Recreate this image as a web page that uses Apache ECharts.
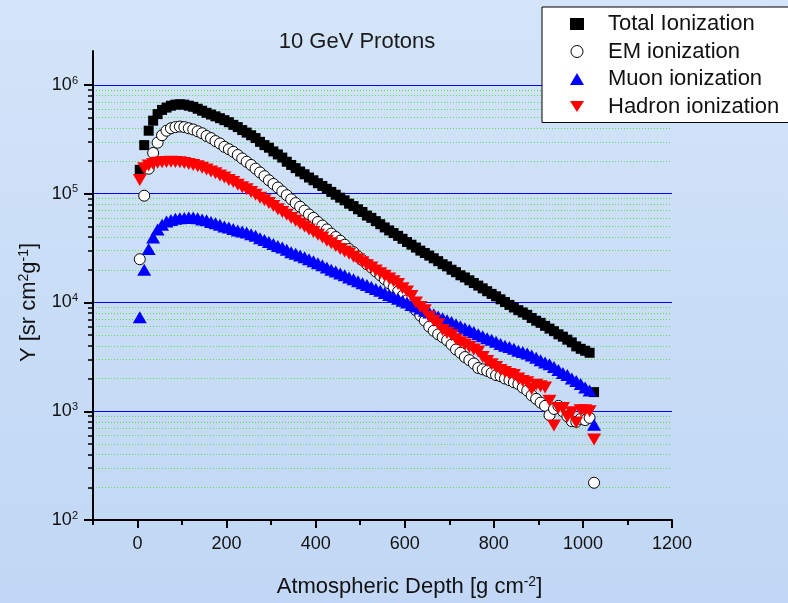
<!DOCTYPE html>
<html><head><meta charset="utf-8">
<script src="https://cdn.jsdelivr.net/npm/echarts@6/dist/echarts.min.js"></script>
<style>html,body{margin:0;padding:0;}#c{width:788px;height:603px;background:linear-gradient(180deg,#d4e5f9 0%,#c9ddf7 50%,#c1d7f5 100%);}</style>
</head><body><div id="c"></div>
<script>
const depth = [5,15,25,35,45,55,65,75,85,95,105,115,125,135,145,155,165,175,185,195,
205,215,225,235,245,255,265,275,285,295,305,315,325,335,345,355,365,375,385,395,
405,415,425,435,445,455,465,475,485,495,505,515,525,535,545,555,565,575,585,595,
605,615,625,635,645,655,665,675,685,695,705,715,725,735,745,755,765,775,785,795,
805,815,825,835,845,855,865,875,885,895,905,915,925,935,945,955,965,975,985,995,
1005,1015,1025];

const totalIon = [1.66e5,2.8e5,3.8e5,4.7e5,5.4e5,5.9e5,6.2e5,6.45e5,6.6e5,6.65e5,
6.6e5,6.45e5,6.3e5,6.05e5,5.8e5,5.55e5,5.35e5,5.15e5,4.95e5,4.75e5,
4.55e5,4.3e5,4.1e5,3.85e5,3.65e5,3.45e5,3.25e5,3.0e5,2.8e5,2.65e5,
2.45e5,2.3e5,2.15e5,1.97e5,1.84e5,1.72e5,1.6e5,1.51e5,1.41e5,1.33e5,
1.25e5,1.18e5,1.11e5,1.04e5,9.8e4,9.2e4,8.7e4,8.1e4,7.7e4,7.2e4,
6.8e4,6.3e4,6.0e4,5.6e4,5.25e4,4.9e4,4.6e4,4.35e4,4.1e4,3.85e4,
3.6e4,3.4e4,3.2e4,3.0e4,2.85e4,2.7e4,2.55e4,2.4e4,2.25e4,2.15e4,
2.0e4,1.9e4,1.78e4,1.7e4,1.6e4,1.51e4,1.43e4,1.35e4,1.27e4,1.2e4,
1.14e4,1.07e4,1.01e4,9.5e3,9.0e3,8.5e3,8.1e3,7.7e3,7.2e3,6.8e3,
6.5e3,6.1e3,5.75e3,5.45e3,5.1e3,4.85e3,4.55e3,4.3e3,3.95e3,3.75e3,
3.6e3,3.45e3,1.5e3];

const emIon = [2.5e4,9.6e4,1.7e5,2.37e5,2.95e5,3.45e5,3.8e5,4.0e5,4.1e5,4.15e5,
4.1e5,4.0e5,3.9e5,3.75e5,3.6e5,3.4e5,3.25e5,3.05e5,2.9e5,2.7e5,
2.57e5,2.43e5,2.27e5,2.11e5,1.97e5,1.84e5,1.7e5,1.57e5,1.45e5,1.33e5,
1.23e5,1.14e5,1.05e5,9.7e4,8.9e4,8.2e4,7.6e4,7.0e4,6.45e4,6.0e4,
5.5e4,5.1e4,4.7e4,4.3e4,4.0e4,3.7e4,3.4e4,3.1e4,2.9e4,2.65e4,
2.45e4,2.25e4,2.1e4,1.93e4,1.78e4,1.64e4,1.5e4,1.38e4,1.26e4,1.15e4,
1.05e4,9.5e3,8.5e3,7.6e3,6.8e3,6.0e3,5.5e3,5.1e3,4.8e3,4.5e3,
4.1e3,3.7e3,3.45e3,3.15e3,2.95e3,2.75e3,2.5e3,2.43e3,2.35e3,2.25e3,
2.15e3,2.1e3,2.0e3,1.93e3,1.85e3,1.78e3,1.65e3,1.55e3,1.4e3,1.3e3,
1.2e3,1.12e3,9.2e2,1.05e3,1.12e3,1.0e3,9.0e2,8.1e2,8.0e2,8.5e2,
8.3e2,8.7e2,2.2e2];

const muonIon = [7.3e3,2.0e4,3.1e4,3.95e4,4.7e4,5.2e4,5.55e4,5.75e4,5.9e4,5.95e4,
6.0e4,6.05e4,6.05e4,5.95e4,5.8e4,5.7e4,5.5e4,5.35e4,5.2e4,5.0e4,
4.9e4,4.75e4,4.6e4,4.5e4,4.4e4,4.25e4,4.1e4,3.9e4,3.75e4,3.6e4,
3.45e4,3.3e4,3.2e4,3.05e4,2.9e4,2.8e4,2.7e4,2.6e4,2.5e4,2.4e4,
2.3e4,2.2e4,2.1e4,2.0e4,1.93e4,1.85e4,1.78e4,1.7e4,1.64e4,1.57e4,
1.5e4,1.45e4,1.39e4,1.33e4,1.28e4,1.22e4,1.17e4,1.13e4,1.08e4,1.04e4,
1.0e4,9.5e3,9.2e3,8.8e3,8.4e3,8.1e3,7.8e3,7.45e3,7.15e3,6.85e3,
6.6e3,6.3e3,6.05e3,5.8e3,5.6e3,5.35e3,5.1e3,4.9e3,4.7e3,4.55e3,
4.35e3,4.15e3,4.0e3,3.9e3,3.75e3,3.6e3,3.5e3,3.4e3,3.25e3,3.1e3,
2.95e3,2.8e3,2.7e3,2.55e3,2.4e3,2.25e3,2.15e3,2.0e3,1.9e3,1.78e3,
1.65e3,1.55e3,7.5e2];

const hadronIon = [1.34e5,1.72e5,1.82e5,1.88e5,1.93e5,1.95e5,1.96e5,1.97e5,1.96e5,1.95e5,
1.92e5,1.88e5,1.84e5,1.79e5,1.73e5,1.67e5,1.6e5,1.54e5,1.47e5,1.41e5,
1.34e5,1.28e5,1.21e5,1.15e5,1.1e5,1.04e5,9.8e4,9.2e4,8.7e4,8.2e4,
7.7e4,7.2e4,6.8e4,6.4e4,6.0e4,5.65e4,5.3e4,5.0e4,4.7e4,4.45e4,
4.2e4,3.95e4,3.7e4,3.5e4,3.3e4,3.1e4,2.95e4,2.8e4,2.63e4,2.5e4,
2.35e4,2.2e4,2.1e4,1.97e4,1.86e4,1.76e4,1.66e4,1.57e4,1.48e4,1.35e4,
1.26e4,1.15e4,1.0e4,9.1e3,8.5e3,7.4e3,6.8e3,6.3e3,5.6e3,5.25e3,
5.0e3,4.6e3,4.3e3,4.1e3,3.9e3,3.7e3,3.55e3,3.15e3,2.9e3,2.7e3,
2.55e3,2.4e3,2.3e3,2.2e3,2.15e3,2.0e3,1.9e3,1.85e3,1.6e3,1.75e3,
1.7e3,1.65e3,1.25e3,7.4e2,1.07e3,1.07e3,8.9e2,9.8e2,7.9e2,1.02e3,
1.02e3,1.0e3,5.5e2];

const xMajorTicks = [0,200,400,600,800,1000,1200];
const xMinorTicks = [-100,100,300,500,700,900,1100];
const yMajorTicks = [100,1000,10000,100000,1000000];
const yMinorTicks = [200,300,400,500,600,700,800,900,
  2000,3000,4000,5000,6000,7000,8000,9000,
  20000,30000,40000,50000,60000,70000,80000,90000,
  200000,300000,400000,500000,600000,700000,800000,900000];
const seriesNames = ['Total Ionization','EM ionization','Muon ionization','Hadron ionization'];

const FONT = 'Liberation Sans, Arial, sans-serif';
const chart = echarts.init(document.getElementById('c'), null, {renderer:'canvas'});
const pairs = arr => depth.map((d,i)=>[d, arr[i]]);
const downTri = 'path://M0,0L20,0L10,16Z';

chart.setOption({
  backgroundColor:'transparent',
  animation:false,
  title:{text:'10 GeV Protons', left:357, textAlign:'center', top:31, padding:0,
    textStyle:{fontFamily:FONT, fontSize:22, fontWeight:'normal', color:'#1a1a1a'}},
  legend:{orient:'vertical', left:542, top:7, padding:[6,20,5,28], itemGap:5.5,
    itemWidth:14, itemHeight:12, backgroundColor:'#ffffff', borderColor:'#000', borderWidth:1,
    textStyle:{fontFamily:FONT, fontSize:22, color:'#111', lineHeight:22, padding:[0,0,0,19]},
    data:[seriesNames[0], {name:seriesNames[1], itemStyle:{borderWidth:1}}, seriesNames[2], seriesNames[3]]},
  grid:[
    {left:93, right:116, top:85, bottom:80.3, containLabel:false},
    {left:93, right:116, top:51, height:34, containLabel:false}
  ],
  xAxis:[
    {type:'value', gridIndex:0, min:-100, max:1200, position:'bottom',
      axisLine:{show:true, onZero:false, lineStyle:{color:'#000', width:2}},
      axisTick:{show:true, customValues:xMajorTicks, length:8, lineStyle:{color:'#000', width:2}},
      axisLabel:{customValues:xMajorTicks, formatter:v=>String(v), margin:15, fontFamily:FONT, fontSize:18, color:'#111'},
      splitLine:{show:false},
      name:'{a|Atmospheric Depth [g cm}{s|-2}{a|]}', nameLocation:'middle', nameGap:55,
      nameTextStyle:{padding:[0,0,0,54], rich:{a:{fontFamily:FONT, fontSize:22, color:'#111', lineHeight:24},
        s:{fontFamily:FONT, fontSize:14, color:'#111', verticalAlign:'top', lineHeight:14}}}},
    {type:'value', gridIndex:0, min:-100, max:1200, position:'bottom',
      axisLine:{show:false, onZero:false},
      axisTick:{show:true, customValues:xMinorTicks, length:5, lineStyle:{color:'#000', width:2}},
      axisLabel:{show:false}, splitLine:{show:false}},
    {type:'value', gridIndex:1, min:0, max:1, show:false}
  ],
  yAxis:[
    {type:'log', logBase:10, gridIndex:0, min:100, max:1e6,
      axisLine:{show:true, onZero:false, lineStyle:{color:'#000', width:2}},
      axisTick:{show:true, customValues:yMajorTicks, length:9, lineStyle:{color:'#000', width:2}},
      axisLabel:{customValues:yMajorTicks, margin:15, formatter:v=>'{b|10}{e|'+Math.round(Math.log10(v))+'}',
        rich:{b:{fontFamily:FONT, fontSize:18, color:'#111', lineHeight:20},
              e:{fontFamily:FONT, fontSize:11, color:'#111', verticalAlign:'top', lineHeight:11}}},
      splitLine:{show:true, lineStyle:{color:'#0000ff', width:1}},
      name:'{a|Y [sr cm}{s|2}{a|g}{s|-1}{a|]}', nameLocation:'middle', nameGap:52, nameRotate:90,
      nameTextStyle:{rich:{a:{fontFamily:FONT, fontSize:22, color:'#111', lineHeight:24},
        s:{fontFamily:FONT, fontSize:14, color:'#111', verticalAlign:'top', lineHeight:14}}}},
    {type:'log', logBase:10, gridIndex:0, min:100, max:1e6, position:'left', offset:0,
      axisLine:{show:false, onZero:false},
      axisTick:{show:true, customValues:yMinorTicks, length:5, lineStyle:{color:'#000', width:1.5}},
      axisLabel:{show:false},
      splitLine:{show:true, lineStyle:{color:'#55e055', width:1, type:[1,2]}}},
    {type:'value', gridIndex:1, min:0, max:1,
      axisLine:{show:true, onZero:false, lineStyle:{color:'#000', width:2}},
      axisTick:{show:false}, axisLabel:{show:false}, splitLine:{show:false}}
  ],
  series:[
    {name:seriesNames[0], type:'scatter', xAxisIndex:0, yAxisIndex:0, symbol:'rect', symbolSize:10,
      itemStyle:{color:'#000', opacity:1}, data:pairs(totalIon), z:2},
    {name:seriesNames[1], type:'scatter', xAxisIndex:0, yAxisIndex:0, symbol:'circle', symbolSize:11,
      itemStyle:{color:'#fff', borderColor:'#000', borderWidth:1, opacity:1}, data:pairs(emIon), z:3},
    {name:seriesNames[2], type:'scatter', xAxisIndex:0, yAxisIndex:0, symbol:'triangle', symbolSize:[14,12],
      itemStyle:{color:'#0000ff', opacity:1}, data:pairs(muonIon), z:4},
    {name:seriesNames[3], type:'scatter', xAxisIndex:0, yAxisIndex:0, symbol:downTri, symbolSize:[14,12],
      itemStyle:{color:'#ff0000', opacity:1}, data:pairs(hadronIon), z:5}
  ]
});
</script></body></html>
